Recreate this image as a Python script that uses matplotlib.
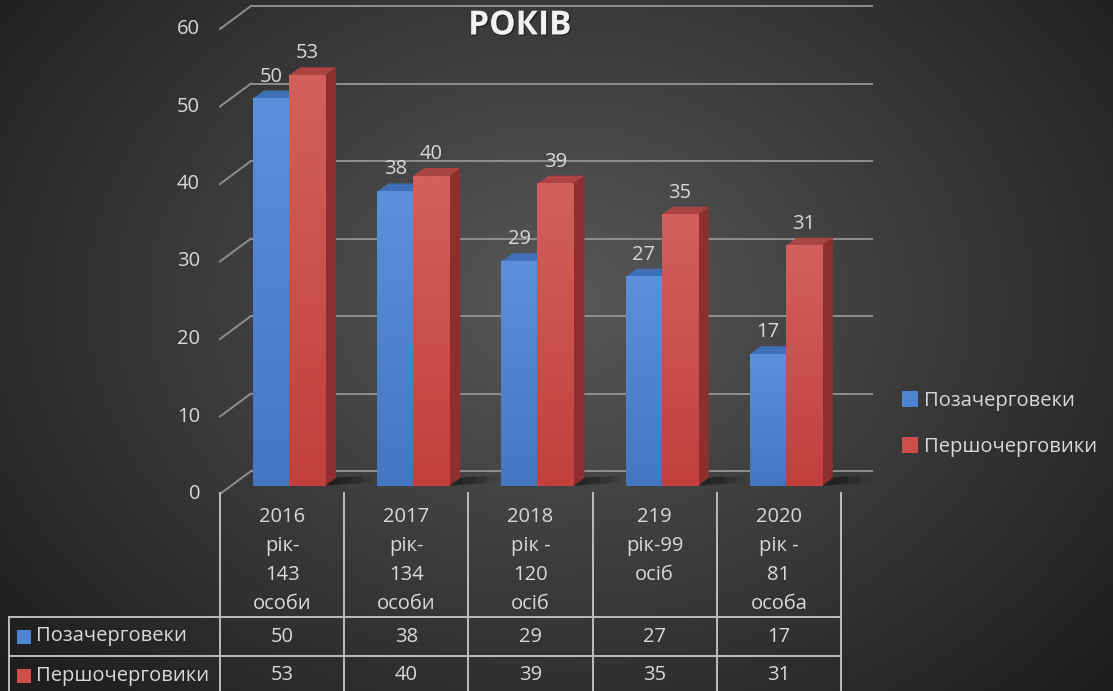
import matplotlib
matplotlib.use("Agg")
import matplotlib.pyplot as plt
import matplotlib.patheffects as pe
from matplotlib.patches import Polygon, Rectangle, Patch
import numpy as np

# Fonts (Calibri look-alike, Cyrillic capable)
plt.rcParams['font.family'] = ['Open Sans', 'DejaVu Sans']

# *** Data ***
title = "РОКІВ"
series_names = ["Позачерговеки", "Першочерговики"]
cat_lines = [
    ["2016", "рік-", "143", "особи"],
    ["2017", "рік-", "134", "особи"],
    ["2018", "рік -", "120", "осіб"],
    ["219", "рік-99", "осіб"],
    ["2020", "рік -", "81", "особа"],
]
pozacherg = [50, 38, 29, 27, 17]
pershocherg = [53, 40, 39, 35, 31]
y_ticks = [0, 10, 20, 30, 40, 50, 60]

# *** Style ***
W, H = 1113, 691
TXT = '#d9d9d9'
GRID = '#8f8f8f'
TABLE_LINE = '#bdbdbd'
FS = 14.5
BLUE = dict(front='#4f84d0', hi='#5d90da', lo='#4476c2', top='#416fb5', side='#2f5591')
RED = dict(front='#cc4f4c', hi='#d3605d', lo='#c1403e', top='#a94442', side='#8e2f2d')

# 3D offsets in data units (x: category, y: value)
PX_X = 124.2   # pixels per category
PX_Y = 7.75    # pixels per value unit
FRONT = (-31 / PX_X, -23 / PX_Y)
FACE = (-20 / PX_X, -15 / PX_Y)
DEPTH = (11 / PX_X, 8 / PX_Y)
BAR_W = 0.29
BAR_OFF = 0.177

fig = plt.figure(figsize=(W / 100, H / 100), dpi=100)

# background radial gradient
bg = fig.add_axes([0, 0, 1, 1], zorder=-10)
yy, xx = np.mgrid[0:H, 0:W]
r = np.sqrt(((xx - 560) / 720.0) ** 2 + ((yy - 300) / 560.0) ** 2)
r = np.clip(r, 0, 1)
g = (88 * (1 - r) + 30 * r) / 255.0
bg.imshow(np.dstack([g, g, g]), aspect='auto', extent=(0, 1, 0, 1))
bg.axis('off')

# chart axes: back wall, value 0 at y=471px, value 60 at y=6px
ax = fig.add_axes([251 / W, (H - 471) / H, 5 * PX_X / W, 60 * PX_Y / H])
ax.axis('off')
ax.patch.set_alpha(0)

fx, fy = FRONT
for v in y_ticks:
    ax.plot([0, 5], [v, v], color=GRID, lw=1.4, clip_on=False, zorder=1)
    ax.plot([fx, 0], [v + fy, v], color=GRID, lw=1.4, clip_on=False, zorder=1)
    ax.text(fx - 20 / PX_X, v + fy, str(v), ha='right', va='center',
            color=TXT, fontsize=FS, clip_on=False)


def bar3d(x0, v, col):
    bx, by = FACE
    dx, dy = DEPTH
    xl, xr = x0 + bx, x0 + BAR_W + bx
    yb, yt = by, v + by
    # floor shadow
    for k, a in enumerate([0.2, 0.15, 0.1]):
        s = 1 + k
        ax.add_patch(Polygon([(xr, yb), (xr + dx * (1.4 + s), yb + dy * 0.4),
                              (xr + dx * (1.4 + s), yb + dy * 1.2), (xr, yb + dy)],
                             fc='black', alpha=a, lw=0, clip_on=False, zorder=2))
    ax.add_patch(Polygon([(xr, yb), (xr + dx, yb + dy), (xr + dx, yt + dy), (xr, yt)],
                         fc=col['side'], lw=0, clip_on=False, zorder=3))
    ax.add_patch(Polygon([(xl, yt), (xr, yt), (xr + dx, yt + dy), (xl + dx, yt + dy)],
                         fc=col['top'], lw=0, clip_on=False, zorder=3))
    # front face with a soft vertical gradient
    grad = np.linspace(0, 1, 64)[:, None]
    c_hi = np.array(matplotlib.colors.to_rgb(col['hi']))
    c_lo = np.array(matplotlib.colors.to_rgb(col['lo']))
    img = c_hi[None, None, :] * (1 - grad[..., None]) + c_lo[None, None, :] * grad[..., None]
    ax.imshow(img, extent=(xl, xr, yb, yt), origin='upper', aspect='auto',
              interpolation='bilinear', clip_on=False, zorder=3)
    ax.text((xl + xr) / 2, v + by + 22 / PX_Y, str(v), ha='center', va='center',
            color=TXT, fontsize=FS, clip_on=False, zorder=5)


for i in range(len(pozacherg)):
    bar3d(i + BAR_OFF, pozacherg[i], BLUE)
    bar3d(i + BAR_OFF + BAR_W, pershocherg[i], RED)

ax.set_xlim(0, 5)
ax.set_ylim(0, 60)

fig.text(520 / W, 1 - 26 / H, title, ha='center', va='center', fontsize=24,
         fontweight='bold', color='#f2f2f2',
         path_effects=[pe.withSimplePatchShadow(offset=(1, -1),
                                                shadow_rgbFace='black', alpha=0.4)])

# legend on the right
handles = [Patch(fc=BLUE['front'], ec='none'), Patch(fc=RED['front'], ec='none')]
fig.legend(handles, series_names, loc='center left',
           bbox_to_anchor=(884 / W, 1 - 424 / H), frameon=False,
           handlelength=0.8, handleheight=0.8, handletextpad=0.3,
           labelspacing=1.3, fontsize=FS, labelcolor=TXT)

# data table under the chart
ROW = 39.0
tab = fig.add_axes([9 / W, 0, 832 / W, 198 / H])
tab.set_xlim(-1.7, 5)
tab.set_ylim(198 / ROW, 0)
tab.axis('off')
tab.patch.set_alpha(0)

hdr = 124 / ROW
ybot = 198 / ROW
for k in range(6):
    tab.plot([k, k], [0, ybot], color=TABLE_LINE, lw=1.4, clip_on=False)
tab.plot([-1.7, -1.7], [hdr, ybot], color=TABLE_LINE, lw=1.4, clip_on=False)
for yl in [hdr, hdr + 1]:
    tab.plot([-1.7, 5], [yl, yl], color=TABLE_LINE, lw=1.4, clip_on=False)

for k, lines in enumerate(cat_lines):
    for j, s in enumerate(lines):
        tab.text(k + 0.5, (24 + 29 * j) / ROW, s, ha='center', va='center',
                 color=TXT, fontsize=FS)

for r_i, (vals, col) in enumerate([(pozacherg, BLUE), (pershocherg, RED)]):
    yc = hdr + 0.5 + r_i
    for k, v in enumerate(vals):
        tab.text(k + 0.5, yc, str(v), ha='center', va='center', color=TXT, fontsize=FS)
    tab.add_patch(Rectangle((-1.7 + 8 / PX_X, yc - 7 / ROW), 14 / PX_X, 14 / ROW,
                            fc=col['front'], lw=0, clip_on=False))
    tab.text(-1.7 + 27 / PX_X, yc, series_names[r_i], ha='left', va='center',
             color=TXT, fontsize=FS)

fig.savefig("out.png", dpi=100)
